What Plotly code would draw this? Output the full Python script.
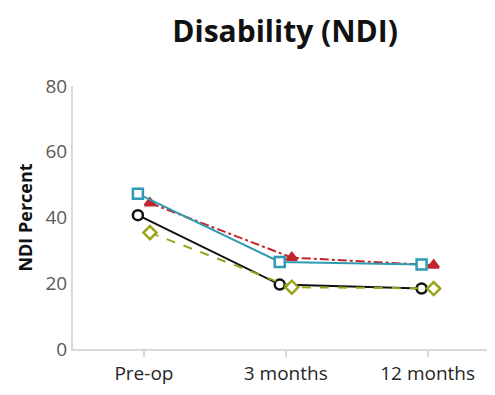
import plotly.graph_objects as go

categories = ["Pre-op", "3 months", "12 months"]
series_blue = [47.2, 26.5, 25.7]
series_red = [44.4, 27.8, 25.5]
series_black = [40.7, 19.6, 18.4]
series_olive = [35.4, 18.8, 18.4]
y_ticks = [0, 20, 40, 60, 80]

fig = go.Figure()

def add(y, color, symbol, dash, group, fill="white", size=10, lw=2):
    fig.add_trace(go.Scatter(
        x=categories, y=y, mode="lines+markers", offsetgroup=group,
        line=dict(color=color, width=lw, dash=dash),
        marker=dict(symbol=symbol, size=size, color=fill,
                    line=dict(color=color, width=2.5)),
        showlegend=False))

add(series_black, "#111111", "circle", "solid", "a")
add(series_olive, "#9aa51c", "diamond", "dash", "b")
add(series_red, "#c0262c", "triangle-up", "dashdot", "b", fill="#c0262c", size=9)
add(series_blue, "#2e9ab4", "square", "solid", "a")

fig.update_layout(
    width=487, height=387,
    margin=dict(l=65, r=0, t=78, b=46),
    paper_bgcolor="white", plot_bgcolor="white",
    scattermode="group", scattergap=0.83,
    font=dict(family="Open Sans, Noto Sans, sans-serif", color="#595959"),
    title=dict(text="<b>Disability (NDI)</b>", x=0.569, xanchor="center",
               y=0.94, yanchor="middle",
               font=dict(size=30, color="#111111", family="Open Sans, sans-serif")),
    xaxis=dict(type="category", range=[-0.5, 2.475], showgrid=False,
               showline=True, linecolor="#d9d9d9", linewidth=2,
               ticks="outside", tickcolor="#d9d9d9", ticklen=6, tickwidth=2,
               tickfont=dict(size=19, color="#262626")),
    yaxis=dict(range=[0, 80], tickvals=y_ticks, showgrid=False, zeroline=False,
               showline=True, linecolor="#d9d9d9", linewidth=2,
               ticks="", tickfont=dict(size=19, color="#595959"),
               title=dict(text="<b>NDI Percent</b>", standoff=8,
                          font=dict(size=18, color="#111111"))),
)

fig.write_html("out.html")
